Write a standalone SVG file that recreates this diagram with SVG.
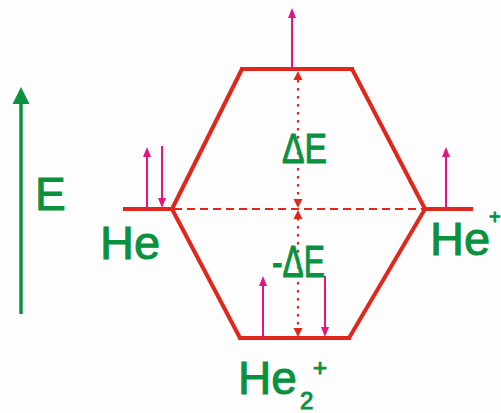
<svg xmlns="http://www.w3.org/2000/svg" width="501" height="413" viewBox="0 0 501 413">
<style>
.lvl{stroke:#e1261c;stroke-width:4;fill:none;stroke-linejoin:miter}
.con{stroke:#e1261c;stroke-width:4;fill:none}
.dash{stroke:#e1261c;stroke-width:2;stroke-dasharray:8 5;fill:none}
.dot{stroke:#e1261c;stroke-width:2.2;stroke-dasharray:2.5 5.5;fill:none}
.spin{stroke:#e4157f;stroke-width:2;fill:none}
.sh{fill:#e4157f}
.rh{fill:#e1261c}
.lbl{font-family:"Liberation Sans",Arial,sans-serif;fill:#0a9140;stroke:#0a9140;stroke-width:1}
</style>
<rect width="501" height="413" fill="#fdfdfd"/>
<g id="axis">
<line x1="21" y1="314" x2="21" y2="100" stroke="#0a9140" stroke-width="3.5"/>
<polygon points="21,87 12.5,104 29.5,104" fill="#0a9140"/>
<text class="lbl" x="35" y="210" font-size="46">E</text>
</g>
<g id="connectors">
<polyline class="con" points="172,209 242,69"/>
<polyline class="con" points="352,69 425,209"/>
<polyline class="con" points="172,209 240,338"/>
<polyline class="con" points="349,338 425,209"/>
<line class="dash" x1="174" y1="209" x2="423" y2="209"/>
<line class="dot" x1="298" y1="80" x2="298" y2="199"/>
<polygon class="rh" points="298,71 293.5,80 302.5,80"/>
<polygon class="rh" points="298,208 293.5,199 302.5,199"/>
<line class="dot" x1="298" y1="218" x2="298" y2="328"/>
<polygon class="rh" points="298,210 293.5,219 302.5,219"/>
<polygon class="rh" points="298,337 293.5,328 302.5,328"/>
</g>
<g id="He">
<line class="lvl" x1="123" y1="209" x2="173" y2="209"/>
<line class="spin" x1="147" y1="209" x2="147" y2="155"/>
<polygon class="sh" points="147,147 143,157 151,157"/>
<line class="spin" x1="162" y1="146" x2="162" y2="199"/>
<polygon class="sh" points="162,208 158,198 166,198"/>
<text class="lbl" x="100" y="259" font-size="47">He</text>
</g>
<g id="antibonding">
<line class="lvl" x1="240" y1="69" x2="354" y2="69"/>
<line class="spin" x1="292" y1="69" x2="292" y2="16"/>
<polygon class="sh" points="292,8 288,18 296,18"/>
<text class="lbl" x="282" y="163" font-size="43" textLength="45" lengthAdjust="spacingAndGlyphs">ΔE</text>
</g>
<g id="HePlus">
<line class="lvl" x1="424" y1="209" x2="473" y2="209"/>
<line class="spin" x1="446" y1="209" x2="446" y2="155"/>
<polygon class="sh" points="446,147 442,157 450,157"/>
<text class="lbl" x="430" y="255" font-size="47">He</text>
<text class="lbl" x="489" y="224" font-size="20">+</text>
</g>
<g id="bonding">
<line class="lvl" x1="238" y1="338" x2="351" y2="338"/>
<line class="spin" x1="263" y1="338" x2="263" y2="284"/>
<polygon class="sh" points="263,276 259,286 267,286"/>
<line class="spin" x1="325" y1="276" x2="325" y2="328"/>
<polygon class="sh" points="325,337 321,327 329,327"/>
<text class="lbl" x="272" y="277" font-size="44" textLength="53" lengthAdjust="spacingAndGlyphs">-ΔE</text>
</g>
<g id="He2Plus">
<text class="lbl" x="238" y="394" font-size="46">He</text>
<text class="lbl" x="300" y="409" font-size="24">2</text>
<text class="lbl" x="313" y="376" font-size="24">+</text>
</g>
</svg>
